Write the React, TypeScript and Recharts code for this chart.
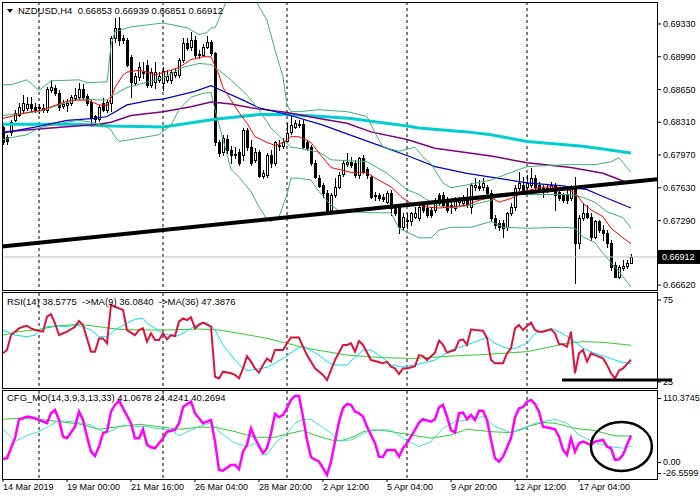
import React from 'react';
import {
  ComposedChart,
  Line,
  Bar,
  XAxis,
  YAxis,
  CartesianGrid,
  ReferenceLine,
  ReferenceDot,
} from 'recharts';

type Pt = [number, number];
type Ohlc = [number, number, number, number];

// NZDUSD H4 bars: open, high, low, close
const candles: Ohlc[] = [
  [0.6826, 0.6827, 0.6808, 0.6811], [0.6816, 0.6818, 0.6808, 0.6812], [0.6821, 0.6833, 0.6818, 0.6831],
  [0.6833, 0.6844, 0.6832, 0.6841], [0.6839, 0.6851, 0.6838, 0.6847], [0.6844, 0.6859, 0.6842, 0.6851],
  [0.6846, 0.6857, 0.6844, 0.685], [0.685, 0.6857, 0.6843, 0.6846], [0.6847, 0.6851, 0.6842, 0.6844],
  [0.6847, 0.685, 0.6841, 0.6846], [0.6844, 0.685, 0.6842, 0.6846], [0.6844, 0.6868, 0.6842, 0.6866],
  [0.6864, 0.6875, 0.6862, 0.6868], [0.6867, 0.687, 0.6859, 0.6861], [0.6861, 0.6864, 0.6844, 0.6847],
  [0.6848, 0.6854, 0.6846, 0.685], [0.6849, 0.6855, 0.6843, 0.6851], [0.6851, 0.6859, 0.6849, 0.6857],
  [0.6856, 0.6867, 0.6854, 0.6859], [0.6857, 0.6872, 0.6855, 0.6866], [0.6866, 0.6871, 0.6855, 0.6857],
  [0.6858, 0.686, 0.6849, 0.6851], [0.6852, 0.6854, 0.6827, 0.6835], [0.6837, 0.6839, 0.6831, 0.6834],
  [0.6834, 0.6849, 0.6832, 0.6847], [0.6851, 0.6856, 0.6843, 0.6844], [0.6844, 0.6854, 0.6842, 0.6852],
  [0.6851, 0.6921, 0.6843, 0.6918], [0.6918, 0.6939, 0.6914, 0.6929], [0.6929, 0.694, 0.6911, 0.6916],
  [0.6918, 0.6922, 0.6913, 0.6916], [0.6916, 0.6918, 0.6889, 0.689], [0.6899, 0.6901, 0.6857, 0.6873],
  [0.6872, 0.6882, 0.687, 0.6879], [0.6878, 0.6894, 0.6875, 0.6888], [0.6883, 0.6894, 0.6877, 0.6882],
  [0.689, 0.6896, 0.6868, 0.687], [0.687, 0.6887, 0.6868, 0.6883], [0.6873, 0.6894, 0.6867, 0.6883],
  [0.6875, 0.6883, 0.6873, 0.6879], [0.6872, 0.6888, 0.6864, 0.6884], [0.6875, 0.6885, 0.6873, 0.6879],
  [0.6875, 0.6885, 0.6872, 0.6883], [0.688, 0.6887, 0.6878, 0.6883], [0.688, 0.6898, 0.6878, 0.6896],
  [0.6896, 0.6918, 0.6894, 0.6913], [0.6913, 0.6918, 0.6906, 0.6908], [0.6909, 0.6925, 0.6906, 0.6916],
  [0.6916, 0.692, 0.6899, 0.6901], [0.6902, 0.6906, 0.6898, 0.6901], [0.6901, 0.6912, 0.69, 0.6909],
  [0.6909, 0.692, 0.6908, 0.6914], [0.6914, 0.6916, 0.6901, 0.6903], [0.6903, 0.6904, 0.6807, 0.681],
  [0.681, 0.6813, 0.6796, 0.6799], [0.68, 0.6818, 0.6797, 0.6815], [0.6814, 0.6818, 0.6799, 0.6802],
  [0.6802, 0.6806, 0.6789, 0.6797], [0.6798, 0.6805, 0.6794, 0.6797], [0.68, 0.6803, 0.6787, 0.6789],
  [0.6797, 0.6825, 0.6792, 0.6823], [0.6823, 0.6825, 0.6802, 0.6805], [0.6805, 0.6813, 0.6787, 0.6789],
  [0.6792, 0.6804, 0.679, 0.68], [0.68, 0.6802, 0.6774, 0.6775], [0.6775, 0.6781, 0.6773, 0.6778],
  [0.6776, 0.6799, 0.6774, 0.6797], [0.6797, 0.6802, 0.6785, 0.6789], [0.6789, 0.6812, 0.6787, 0.681],
  [0.6807, 0.6813, 0.6802, 0.6806], [0.6806, 0.6815, 0.6804, 0.681], [0.6812, 0.683, 0.6812, 0.682],
  [0.6821, 0.6837, 0.6819, 0.6828], [0.6826, 0.6833, 0.6825, 0.683], [0.6828, 0.6833, 0.6826, 0.6829],
  [0.6829, 0.6833, 0.6804, 0.6805], [0.681, 0.6813, 0.6802, 0.6804], [0.6805, 0.6807, 0.6787, 0.6789],
  [0.6789, 0.6792, 0.6773, 0.6774], [0.6773, 0.6776, 0.6764, 0.6765], [0.6766, 0.6768, 0.6753, 0.6758],
  [0.6758, 0.6761, 0.6738, 0.674], [0.674, 0.6758, 0.6738, 0.6756], [0.6756, 0.6773, 0.6753, 0.6764],
  [0.6764, 0.6779, 0.6763, 0.6776], [0.6777, 0.6792, 0.6775, 0.6789], [0.6788, 0.6799, 0.6786, 0.679],
  [0.679, 0.6795, 0.6785, 0.6787], [0.6789, 0.6792, 0.6774, 0.6776], [0.6776, 0.6795, 0.6773, 0.6794],
  [0.6794, 0.6797, 0.6778, 0.6779], [0.6782, 0.6785, 0.6773, 0.6776], [0.6774, 0.6776, 0.6752, 0.6753],
  [0.6756, 0.6759, 0.675, 0.6755], [0.6756, 0.6758, 0.675, 0.6752], [0.6753, 0.6757, 0.6749, 0.6751],
  [0.6748, 0.676, 0.6747, 0.6758], [0.6758, 0.6761, 0.6735, 0.6742], [0.6742, 0.6745, 0.6735, 0.6737],
  [0.6743, 0.6745, 0.6716, 0.6722], [0.6722, 0.6737, 0.6719, 0.6733], [0.673, 0.6737, 0.6721, 0.6729],
  [0.6728, 0.6738, 0.6724, 0.6737], [0.6733, 0.6743, 0.6732, 0.6737], [0.6732, 0.6745, 0.673, 0.6743],
  [0.6745, 0.6748, 0.6738, 0.674], [0.6742, 0.6745, 0.6733, 0.6735], [0.674, 0.6743, 0.6733, 0.6735],
  [0.674, 0.6752, 0.6738, 0.6747], [0.6755, 0.6758, 0.6745, 0.6747], [0.6756, 0.6759, 0.6743, 0.6745],
  [0.675, 0.6753, 0.6738, 0.674], [0.6745, 0.675, 0.6737, 0.6743], [0.6742, 0.6753, 0.674, 0.675],
  [0.6748, 0.6753, 0.6745, 0.675], [0.6747, 0.6756, 0.6745, 0.6752], [0.6752, 0.6763, 0.6743, 0.6745],
  [0.6743, 0.6768, 0.6737, 0.6766], [0.6764, 0.6773, 0.6761, 0.6766], [0.6765, 0.6771, 0.6761, 0.6763],
  [0.6764, 0.6773, 0.6761, 0.6768], [0.6764, 0.6766, 0.6756, 0.6758], [0.6758, 0.6761, 0.673, 0.6732],
  [0.6732, 0.6735, 0.6721, 0.6724], [0.6726, 0.673, 0.6719, 0.6722], [0.6726, 0.673, 0.6712, 0.6721],
  [0.6722, 0.6738, 0.6719, 0.6737], [0.6737, 0.6747, 0.6735, 0.6743], [0.6743, 0.6766, 0.674, 0.6763],
  [0.6763, 0.6779, 0.6761, 0.6768], [0.6766, 0.6774, 0.6759, 0.6761], [0.6764, 0.6776, 0.6761, 0.6768],
  [0.6766, 0.6784, 0.6764, 0.6773], [0.6773, 0.6776, 0.6761, 0.6764], [0.6766, 0.6769, 0.6759, 0.6761],
  [0.6761, 0.6766, 0.6753, 0.6763], [0.6763, 0.6766, 0.6759, 0.6761], [0.6763, 0.6769, 0.6761, 0.6766],
  [0.6766, 0.6768, 0.674, 0.6756], [0.6759, 0.6763, 0.675, 0.6752], [0.6756, 0.6758, 0.6748, 0.675],
  [0.6756, 0.6761, 0.6747, 0.675], [0.6752, 0.6766, 0.675, 0.6764], [0.6764, 0.6774, 0.6664, 0.6706],
  [0.6706, 0.6735, 0.6701, 0.6732], [0.6732, 0.6747, 0.673, 0.6737], [0.6737, 0.6745, 0.6732, 0.6733],
  [0.6733, 0.6737, 0.6709, 0.6712], [0.6712, 0.673, 0.6711, 0.6728], [0.6728, 0.673, 0.6717, 0.6719],
  [0.6719, 0.6724, 0.6709, 0.6716], [0.6716, 0.6719, 0.6702, 0.6706], [0.6706, 0.6709, 0.6678, 0.6681],
  [0.6683, 0.6686, 0.667, 0.667], [0.667, 0.6683, 0.6669, 0.6681], [0.668, 0.6688, 0.6678, 0.6682],
  [0.6682, 0.6688, 0.668, 0.6685], [0.66853, 0.66939, 0.66851, 0.66912],
];

// indicator lines on the price chart: [bar, value]
const bbUpper: Pt[] = [
  [0, 0.687], [2, 0.687], [6, 0.6875], [9, 0.6864], [12, 0.6874], [19, 0.6875], [21, 0.6872], [26, 0.6873],
  [27, 0.6911], [28, 0.6925], [32, 0.693], [40, 0.6934], [46, 0.6929], [49, 0.6922], [51, 0.6924], [52, 0.6929],
  [53, 0.6929], [55, 0.6948], [56, 0.6958], [58, 0.6966], [60, 0.697], [62, 0.6966], [63, 0.6958], [66, 0.6937],
  [68, 0.6906], [70, 0.6878], [71, 0.6849], [72, 0.6842], [74, 0.6842], [79, 0.6844], [86, 0.6842], [91, 0.6837],
  [93, 0.682], [95, 0.6805], [99, 0.6801], [103, 0.6805], [105, 0.6795], [107, 0.6788], [110, 0.6768],
  [112, 0.6763], [116, 0.6766], [122, 0.6771], [131, 0.6785], [141, 0.6787], [148, 0.6787], [152, 0.679],
  [154, 0.6794], [155, 0.6789], [157, 0.6779],
];
const bbMiddle: Pt[] = [
  [0, 0.6838], [9, 0.6842], [14, 0.6849], [19, 0.6855], [26, 0.6854], [27, 0.6858], [31, 0.6867], [40, 0.6877],
  [45, 0.6888], [49, 0.6892], [52, 0.6891], [54, 0.6885], [57, 0.6875], [61, 0.6859], [64, 0.6844], [67, 0.6825],
  [70, 0.6813], [72, 0.6805], [74, 0.6804], [79, 0.68], [82, 0.6792], [91, 0.679], [96, 0.6778], [101, 0.6761],
  [104, 0.6756], [108, 0.6745], [112, 0.6742], [117, 0.6745], [122, 0.675], [125, 0.6757], [130, 0.6756],
  [135, 0.6756], [142, 0.6756], [145, 0.6753], [148, 0.6748], [151, 0.6738], [155, 0.6732], [157, 0.6721],
];
const bbLower: Pt[] = [
  [0, 0.6813], [2, 0.6815], [6, 0.6818], [9, 0.6825], [12, 0.6828], [16, 0.6831], [19, 0.6833], [22, 0.6831],
  [26, 0.6826], [27, 0.6823], [28, 0.6816], [29, 0.6811], [39, 0.6818], [42, 0.6828], [44, 0.6844], [47, 0.6857],
  [50, 0.6861], [52, 0.6862], [53, 0.6844], [55, 0.6813], [57, 0.6782], [59, 0.6774], [62, 0.6759], [64, 0.6743],
  [66, 0.673], [67, 0.6728], [69, 0.6733], [71, 0.6756], [72, 0.6773], [74, 0.6773], [77, 0.6771], [79, 0.6759],
  [82, 0.6745], [84, 0.6739], [92, 0.6737], [97, 0.6737], [99, 0.6721], [104, 0.6711], [107, 0.6711],
  [109, 0.6719], [112, 0.6722], [117, 0.6722], [122, 0.6728], [125, 0.6722], [131, 0.6721], [140, 0.6722],
  [143, 0.6721], [145, 0.6712], [148, 0.6706], [150, 0.6695], [154, 0.6676], [157, 0.666],
];
const maRed: Pt[] = [
  [0, 0.6835], [2, 0.6837], [6, 0.6841], [10, 0.6844], [14, 0.685], [17, 0.6854], [21, 0.6854], [24, 0.6849],
  [26, 0.6848], [27, 0.6856], [28, 0.6867], [30, 0.688], [31, 0.6883], [34, 0.6885], [36, 0.6883], [38, 0.688],
  [42, 0.6885], [44, 0.6888], [47, 0.6896], [50, 0.6899], [52, 0.6899], [54, 0.688], [55, 0.6867], [57, 0.6854],
  [59, 0.6841], [61, 0.683], [63, 0.6816], [66, 0.681], [68, 0.6807], [70, 0.681], [72, 0.6816], [74, 0.6816],
  [77, 0.681], [79, 0.6799], [82, 0.6784], [87, 0.6779], [91, 0.6779], [93, 0.6773], [97, 0.6764], [100, 0.6752],
  [102, 0.6747], [106, 0.6743], [109, 0.6742], [112, 0.6743], [116, 0.6745], [119, 0.675], [122, 0.6753],
  [124, 0.6748], [127, 0.6752], [130, 0.6759], [134, 0.6763], [137, 0.6764], [140, 0.6763], [143, 0.6758],
  [145, 0.6747], [147, 0.674], [150, 0.6733], [152, 0.6721], [155, 0.6711], [157, 0.6705],
];
const maBlue: Pt[] = [
  [0, 0.682], [8, 0.6826], [16, 0.6833], [23, 0.6835], [26, 0.6837], [31, 0.6849], [37, 0.6854], [40, 0.6855],
  [48, 0.6863], [52, 0.6869], [53, 0.6867], [60, 0.6854], [64, 0.6846], [71, 0.6839], [80, 0.6828], [86, 0.6819],
  [94, 0.6807], [102, 0.6795], [108, 0.6785], [116, 0.6778], [122, 0.6774], [131, 0.6768], [140, 0.6765],
  [146, 0.6761], [150, 0.6754], [157, 0.6742],
];
const maPurple: Pt[] = [
  [0, 0.6821], [12, 0.6825], [24, 0.6829], [27, 0.6831], [32, 0.6838], [40, 0.6842], [47, 0.6847], [52, 0.6852],
  [57, 0.685], [62, 0.6846], [71, 0.6841], [79, 0.6835], [86, 0.683], [92, 0.6821], [101, 0.6813], [108, 0.6804],
  [122, 0.6796], [131, 0.6789], [142, 0.6784], [150, 0.6778], [155, 0.677], [157, 0.6768],
];
const maCyan: Pt[] = [
  [0, 0.6829], [18, 0.6829], [27, 0.6827], [40, 0.6826], [53, 0.6834], [64, 0.6839], [71, 0.6839], [80, 0.6837],
  [87, 0.6835], [92, 0.6832], [101, 0.6827], [104, 0.6825], [116, 0.6821], [122, 0.6818], [131, 0.6811],
  [145, 0.6806], [157, 0.6799],
];

// RSI(14) and its two averages
const rsi: Pt[] = [
  [0, 42.5], [1, 44.5], [2, 53.6], [4, 57.7], [5, 58.7], [6, 59.3], [7, 57.7], [8, 56.7], [10, 55.7], [11, 64.8],
  [12, 66.3], [13, 60.8], [14, 53.6], [15, 54.7], [16, 55.7], [18, 58.7], [19, 62.2], [20, 59.8], [21, 51.6],
  [22, 43.5], [23, 43.5], [24, 51.6], [25, 51.6], [26, 48.6], [27, 72.0], [28, 70.9], [29, 69.9], [30, 68.9],
  [31, 56.7], [33, 53.6], [34, 56.7], [35, 57.7], [36, 49.6], [37, 54.7], [38, 50.6], [39, 50.6], [40, 54.7],
  [41, 51.0], [42, 53.6], [43, 53.0], [44, 61.8], [45, 63.8], [46, 62.8], [47, 64.4], [48, 57.7], [49, 59.8],
  [50, 61.2], [52, 58.7], [53, 28.2], [54, 27.2], [55, 31.3], [57, 30.3], [58, 29.3], [59, 27.2], [60, 33.3],
  [61, 40.8], [62, 37.4], [63, 33.3], [64, 30.7], [65, 35.4], [66, 39.4], [67, 37.4], [68, 44.5], [70, 44.5],
  [71, 48.6], [72, 52.2], [74, 52.2], [75, 46.5], [76, 41.4], [78, 33.3], [80, 29.3], [81, 26.2], [82, 32.3],
  [83, 38.4], [85, 47.6], [86, 47.6], [87, 48.6], [88, 43.5], [89, 50.0], [90, 47.6], [92, 38.4], [93, 37.8],
  [95, 36.4], [96, 37.4], [97, 34.3], [98, 33.3], [99, 29.9], [100, 33.3], [101, 33.3], [103, 34.7], [104, 41.4],
  [105, 40.8], [106, 38.4], [108, 42.9], [109, 50.2], [110, 47.6], [111, 42.9], [113, 44.5], [114, 50.2],
  [115, 51.0], [116, 47.6], [117, 57.1], [118, 56.7], [120, 56.3], [121, 51.6], [122, 38.4], [123, 36.4],
  [125, 36.4], [126, 42.5], [127, 45.5], [128, 57.7], [129, 59.8], [130, 56.7], [131, 59.1], [132, 61.2],
  [133, 56.7], [134, 55.7], [135, 55.7], [137, 57.1], [138, 54.7], [139, 48.0], [140, 48.0], [141, 46.5],
  [142, 55.7], [143, 30.3], [144, 42.5], [145, 44.5], [146, 37.4], [147, 42.5], [148, 41.4], [150, 39.4],
  [151, 35.4], [152, 30.3], [153, 27.2], [154, 31.9], [155, 33.3], [157, 38.6],
];
const rsiMa9: Pt[] = [
  [0, 56.7], [3, 53.6], [6, 52.6], [8, 53.6], [9, 56.7], [11, 58.7], [13, 59.3], [16, 58.7], [18, 59.8], [20, 58.7],
  [22, 56.7], [24, 52.6], [26, 52.6], [28, 56.7], [31, 60.8], [33, 63.2], [35, 63.8], [36, 60.8], [38, 57.7],
  [40, 54.7], [43, 52.6], [45, 54.7], [47, 57.7], [49, 60.8], [51, 61.2], [53, 56.7], [55, 47.6], [58, 38.4],
  [60, 33.3], [61, 31.9], [63, 32.7], [66, 33.9], [68, 36.4], [70, 39.4], [73, 44.5], [75, 47.0], [76, 45.5],
  [79, 41.4], [81, 37.4], [83, 35.4], [86, 35.4], [88, 40.0], [90, 44.5], [92, 44.5], [95, 39.6], [97, 35.4],
  [100, 34.1], [103, 35.4], [108, 38.4], [112, 44.5], [116, 47.6], [121, 52.2], [123, 48.6], [126, 45.5],
  [128, 45.5], [131, 48.6], [133, 54.7], [137, 57.7], [139, 55.7], [142, 51.6], [145, 45.5], [148, 42.5],
  [152, 39.4], [154, 37.5], [157, 36.1],
];
const rsiMa36: Pt[] = [
  [0, 53.6], [4, 55.7], [9, 57.1], [14, 59.3], [19, 60.2], [24, 58.7], [29, 57.1], [34, 56.7], [41, 56.7],
  [49, 57.3], [54, 56.7], [59, 54.7], [66, 51.6], [71, 48.6], [76, 45.5], [81, 43.5], [86, 41.4], [95, 39.8],
  [103, 39.4], [112, 40.8], [122, 42.0], [131, 43.5], [137, 46.5], [141, 48.6], [145, 49.6], [150, 49.2],
  [157, 47.4],
];

// CFG_MO oscillator lines
const cfgMain: Pt[] = [
  [0, 4.7], [1, 5.7], [3, 36.9], [4, 66.4], [5, 68.0], [6, 70.5], [7, 69.5], [8, 68.0], [10, 62.7], [11, 60.2],
  [12, 75.8], [13, 80.9], [14, 65.3], [15, 39.4], [16, 36.9], [18, 54.9], [19, 78.3], [20, 65.3], [21, 39.4],
  [22, 16.0], [23, 9.3], [24, 23.8], [25, 44.7], [26, 47.1], [27, 78.3], [28, 88.7], [29, 95.4], [30, 83.6],
  [32, 60.2], [33, 36.9], [34, 36.9], [35, 50.9], [36, 26.5], [37, 22.9], [38, 21.3], [40, 36.9], [41, 47.1],
  [43, 49.8], [44, 60.2], [45, 85.1], [46, 90.2], [47, 93.8], [48, 75.8], [50, 60.2], [51, 62.7], [52, 65.3],
  [53, 31.6], [54, -12.4], [55, -13.5], [57, -4.7], [58, -4.7], [59, -11.4], [60, 16.0], [61, 26.5], [62, 52.4],
  [63, 36.9], [65, 13.5], [66, 21.3], [67, 44.7], [68, 74.7], [69, 69.5], [70, 73.1], [71, 83.6], [72, 96.5],
  [73, 102.7], [74, 102.7], [75, 70.5], [76, 34.2], [77, 7.3], [79, 0.5], [80, -9.8], [81, -20.2], [82, 0.5],
  [83, 31.6], [84, 62.7], [85, 83.6], [86, 90.2], [87, 88.7], [88, 78.3], [89, 75.8], [90, 70.5], [91, 54.9],
  [93, 29.1], [94, 8.2], [95, 8.2], [96, 18.7], [98, 18.7], [99, 8.2], [100, 21.3], [101, 29.1], [103, 49.8],
  [104, 61.2], [105, 66.4], [107, 62.7], [108, 66.4], [109, 85.1], [110, 88.7], [111, 70.5], [112, 49.8],
  [113, 45.6], [114, 75.8], [115, 76.7], [116, 66.4], [117, 73.1], [118, 65.3], [119, 79.8], [120, 79.8],
  [121, 65.3], [122, 34.2], [123, 5.7], [124, 0.5], [125, 8.2], [127, 36.9], [128, 69.5], [129, 83.6],
  [130, 85.1], [131, 93.8], [132, 96.5], [133, 90.2], [134, 78.3], [135, 54.9], [137, 52.4], [138, 50.9],
  [139, 39.4], [140, 18.7], [141, 10.9], [142, 36.9], [143, 16.0], [144, 29.1], [145, 31.6], [147, 26.5],
  [148, 31.6], [150, 34.2], [151, 23.8], [152, 21.3], [153, 3.1], [154, 4.2], [155, 10.9], [156, 26.5],
  [157, 41.1],
];
const cfgSignal: Pt[] = [
  [0, 50.9], [3, 31.6], [4, 35.3], [7, 43.6], [9, 47.1], [12, 57.6], [14, 64.3], [17, 62.7], [19, 61.2],
  [22, 57.6], [24, 49.8], [26, 45.6], [28, 50.9], [30, 57.6], [33, 54.9], [36, 54.9], [38, 52.4], [42, 49.8],
  [44, 40.5], [47, 49.8], [49, 54.9], [52, 61.2], [54, 47.1], [58, 29.1], [61, 23.8], [63, 29.1], [65, 12.4],
  [66, 10.9], [68, 29.1], [71, 44.7], [73, 60.2], [75, 66.4], [77, 66.4], [79, 57.6], [82, 44.7], [84, 32.7],
  [87, 34.2], [92, 49.8], [97, 49.8], [100, 36.9], [104, 23.8], [107, 31.6], [110, 52.4], [113, 62.7],
  [117, 66.4], [120, 70.5], [123, 54.9], [127, 45.6], [130, 50.9], [133, 60.2], [138, 66.4], [141, 60.2],
  [144, 42.0], [148, 30.0], [152, 23.8], [155, 21.3], [157, 24.4],
];
const cfgSlow: Pt[] = [
  [0, 66.4], [4, 68.0], [9, 66.4], [14, 62.7], [19, 59.1], [24, 50.9], [29, 54.9], [34, 58.7], [39, 54.9],
  [44, 50.9], [49, 54.0], [53, 54.0], [58, 47.1], [63, 38.4], [68, 38.4], [71, 43.6], [75, 48.7], [79, 39.4],
  [83, 32.7], [85, 34.0], [88, 40.0], [90, 47.1], [94, 49.8], [97, 47.1], [102, 42.0], [107, 36.9], [112, 42.0],
  [116, 50.9], [122, 47.1], [127, 45.6], [131, 54.9], [135, 61.2], [138, 60.2], [143, 52.4], [148, 48.7],
  [153, 40.5], [157, 40.3],
];

const timeTicks = [0, 16, 32, 48, 64, 80, 96, 112, 128, 144];
const timeLabels = [
  '14 Mar 2019', '19 Mar 00:00', '21 Mar 16:00', '26 Mar 04:00', '28 Mar 20:00',
  '2 Apr 12:00', '5 Apr 04:00', '9 Apr 20:00', '12 Apr 12:00', '17 Apr 04:00',
];
const gridBars = [9, 40, 71, 101, 131];
const priceTicks = [0.6933, 0.6899, 0.6865, 0.6831, 0.6797, 0.6763, 0.6729, 0.6662];
const rsiTicks = [75, 25];
const cfgTicks = [110.3745, 0, -26.5599];
const lastPrice = 0.66912;

// drawn objects
const trendLine: Pt[] = [[-0.25, 0.6702], [163.5, 0.67718]];
const rsiFloor: Pt[] = [[139.75, 26.2], [167.25, 26.2]];
const cfgCircle: Pt = [154.6, 24.1];

const X_DOMAIN: [number, number] = [-0.25, 163.5];
const PRICE_DOMAIN: [number, number] = [0.66569, 0.69558];
const RSI_DOMAIN: [number, number] = [21.34, 79.27];
const CFG_DOMAIN: [number, number] = [-26.5599, 110.3745];
const FONT = '"Liberation Sans", Arial, sans-serif';
const MARGIN = { top: 0, right: 0, bottom: 0, left: 2 };

const rows = candles.map(([o, h, l, c], i) => ({ i, o, h, l, c }));
const pts = (a: Pt[]) => a.map(([i, v]) => ({ i, v }));

function Candle(props: any) {
  const { x, y, width, height, payload } = props;
  if (payload == null || x == null) return null;
  const { o, h, l, c } = payload;
  const top = Math.min(y, y + height);
  const span = Math.abs(height);
  const cx = Math.round(x + width / 2);
  const py = (v: number) => top + (h === l ? 0 : ((h - v) / (h - l)) * span);
  const b0 = Math.round(Math.min(py(o), py(c)));
  const b1 = Math.round(Math.max(py(o), py(c)));
  const bull = c >= o;
  return (
    <g>
      <line x1={cx + 0.5} x2={cx + 0.5} y1={Math.round(top)} y2={Math.round(top + span) + 1} stroke="#000" />
      {bull ? (
        <rect x={cx - 0.5} y={b0 + 0.5} width={2} height={Math.max(b1 - b0, 1)} fill="#fff" stroke="#000" />
      ) : (
        <rect x={cx - 1} y={b0} width={3} height={Math.max(b1 - b0, 1) + 1} fill="#000" />
      )}
    </g>
  );
}

function PriceTag(props: any) {
  const vb = props.viewBox || {};
  const x = (vb.x ?? 0) + (vb.width ?? 0) + 1;
  const y = vb.y ?? 0;
  return (
    <g>
      <rect x={x} y={y - 7} width={42} height={14} fill="#000" />
      <text x={x + 4} y={y + 3.5} fontSize={9} fill="#fff">
        {lastPrice.toFixed(5)}
      </text>
    </g>
  );
}

function CfgTick(props: any) {
  const { x, y, payload } = props;
  const v = payload.value;
  const shift = v > 100 ? 7 : v < -20 ? -6 : 0;
  const label = v === 0 ? '0.00' : String(v);
  return (
    <g>
      <line x1={x - 6} x2={x - 2} y1={y + shift + 0.5} y2={y + shift + 0.5} stroke="#000" />
      <text x={x} y={y + shift} dy="0.355em" fontSize={9} fill="#000">
        {label}
      </text>
    </g>
  );
}

const tickStyle = { fontSize: 9, fill: '#000' };

function Frame({ top, height }: { top: number; height: number }) {
  return (
    <div
      style={{
        position: 'absolute', left: 2, top, width: 656, height,
        border: '1px solid #000', boxSizing: 'border-box', pointerEvents: 'none',
      }}
    />
  );
}

function Grid() {
  return (
    <CartesianGrid horizontal={false} verticalValues={gridBars} stroke="#000" strokeDasharray="3 3" />
  );
}

export default function App() {
  return (
    <div
      style={{
        position: 'absolute', left: 0, top: 0, width: 700, height: 500,
        background: '#fff', fontFamily: FONT, color: '#000', overflow: 'hidden',
      }}
    >
      {/* price panel */}
      <div style={{ position: 'absolute', left: 0, top: 2 }}>
        <ComposedChart width={700} height={288} data={rows} margin={MARGIN}>
          <Grid />
          <XAxis type="number" dataKey="i" domain={X_DOMAIN} allowDataOverflow hide />
          <YAxis
            orientation="right" type="number" domain={PRICE_DOMAIN} allowDataOverflow width={43}
            ticks={priceTicks} interval={0} tickFormatter={(v: number) => v.toFixed(5)}
            axisLine={false} tickLine={{ stroke: '#000' }} tickSize={4} tickMargin={2} tick={tickStyle}
          />
          <ReferenceLine y={lastPrice} stroke="#c0c0c0" label={<PriceTag />} />
          <Line data={pts(maCyan)} dataKey="v" stroke="#00ced1" strokeWidth={3} dot={false} activeDot={false} isAnimationActive={false} />
          <Line data={pts(maPurple)} dataKey="v" stroke="#800080" strokeWidth={1.5} dot={false} activeDot={false} isAnimationActive={false} />
          <Line data={pts(maBlue)} dataKey="v" stroke="#0000cd" strokeWidth={1.2} dot={false} activeDot={false} isAnimationActive={false} />
          <Line data={pts(bbUpper)} dataKey="v" stroke="#3cb371" strokeWidth={1} dot={false} activeDot={false} isAnimationActive={false} />
          <Line data={pts(bbMiddle)} dataKey="v" stroke="#3cb371" strokeWidth={1} dot={false} activeDot={false} isAnimationActive={false} />
          <Line data={pts(bbLower)} dataKey="v" stroke="#3cb371" strokeWidth={1} dot={false} activeDot={false} isAnimationActive={false} />
          <Line data={pts(maRed)} dataKey="v" stroke="#ff0000" strokeWidth={1} dot={false} activeDot={false} isAnimationActive={false} />
          <Bar dataKey={(d: any) => [d.l, d.h]} barSize={3} shape={<Candle />} isAnimationActive={false} />
          <ReferenceLine
            segment={trendLine.map(([x, y]) => ({ x, y }))}
            stroke="#000" strokeWidth={4} ifOverflow="visible"
          />
        </ComposedChart>
      </div>

      {/* RSI panel */}
      <div style={{ position: 'absolute', left: 0, top: 293 }}>
        <ComposedChart width={700} height={95} margin={MARGIN}>
          <Grid />
          <XAxis type="number" dataKey="i" domain={X_DOMAIN} allowDataOverflow hide />
          <YAxis
            orientation="right" type="number" domain={RSI_DOMAIN} allowDataOverflow width={43}
            ticks={rsiTicks} interval={0} axisLine={false} tickLine={{ stroke: '#000' }}
            tickSize={4} tickMargin={2} tick={tickStyle}
          />
          <Line data={pts(rsiMa36)} dataKey="v" stroke="#32cd32" strokeWidth={1} dot={false} activeDot={false} isAnimationActive={false} />
          <Line data={pts(rsiMa9)} dataKey="v" stroke="#00e5ee" strokeWidth={1} dot={false} activeDot={false} isAnimationActive={false} />
          <Line data={pts(rsi)} dataKey="v" stroke="#dc143c" strokeWidth={2} dot={false} activeDot={false} isAnimationActive={false} />
          <ReferenceLine
            segment={rsiFloor.map(([x, y]) => ({ x, y }))}
            stroke="#000" strokeWidth={3} ifOverflow="visible"
          />
        </ComposedChart>
      </div>

      {/* CFG_MO panel with time axis */}
      <div style={{ position: 'absolute', left: 0, top: 391 }}>
        <ComposedChart width={700} height={109} margin={MARGIN}>
          <Grid />
          <XAxis
            type="number" dataKey="i" domain={X_DOMAIN} allowDataOverflow height={21}
            ticks={timeTicks} interval={0}
            tickFormatter={(v: number) => timeLabels[timeTicks.indexOf(v)] ?? ''}
            axisLine={false} tickLine={{ stroke: '#000' }} tickSize={3} tickMargin={2}
            tick={{ ...tickStyle, textAnchor: 'start' }}
          />
          <YAxis
            orientation="right" type="number" domain={CFG_DOMAIN} allowDataOverflow width={43}
            ticks={cfgTicks} interval={0} axisLine={false} tickLine={false}
            tickSize={4} tickMargin={2} tick={<CfgTick />}
          />
          <Line data={pts(cfgSlow)} dataKey="v" stroke="#32cd32" strokeWidth={1} dot={false} activeDot={false} isAnimationActive={false} />
          <Line data={pts(cfgSignal)} dataKey="v" stroke="#40e0d0" strokeWidth={1} dot={false} activeDot={false} isAnimationActive={false} />
          <Line data={pts(cfgMain)} dataKey="v" stroke="#ff00ff" strokeWidth={2.5} dot={false} activeDot={false} isAnimationActive={false} />
          <ReferenceDot
            x={cfgCircle[0]} y={cfgCircle[1]} r={1} ifOverflow="visible"
            shape={(p: any) => (
              <ellipse cx={p.cx} cy={p.cy} rx={30.5} ry={24.5} fill="none" stroke="#000" strokeWidth={2.5} />
            )}
          />
        </ComposedChart>
      </div>

      <Frame top={2} height={289} />
      <Frame top={292} height={97} />
      <Frame top={390} height={90} />

      <div style={{ position: 'absolute', left: 7, top: 5, fontSize: 9.5, lineHeight: '11px', whiteSpace: 'pre' }}>
        <span
          style={{
            display: 'inline-block', width: 0, height: 0, marginRight: 5, verticalAlign: 1,
            borderLeft: '3px solid transparent', borderRight: '3px solid transparent', borderTop: '4px solid #000',
          }}
        />
        {'NZDUSD,H4  0.66853 0.66939 0.66851 0.66912'}
      </div>
      <div style={{ position: 'absolute', left: 7, top: 296, fontSize: 9.5, lineHeight: '11px', whiteSpace: 'pre' }}>
        {'RSI(14) 38.5775  ->MA(9) 36.0840  ->MA(36) 47.3876'}
      </div>
      <div style={{ position: 'absolute', left: 7, top: 392, fontSize: 9.5, lineHeight: '11px', whiteSpace: 'pre' }}>
        {'CFG_MO(14,3,9,3,13,33) 41.0678 24.4241 40.2694'}
      </div>
    </div>
  );
}
